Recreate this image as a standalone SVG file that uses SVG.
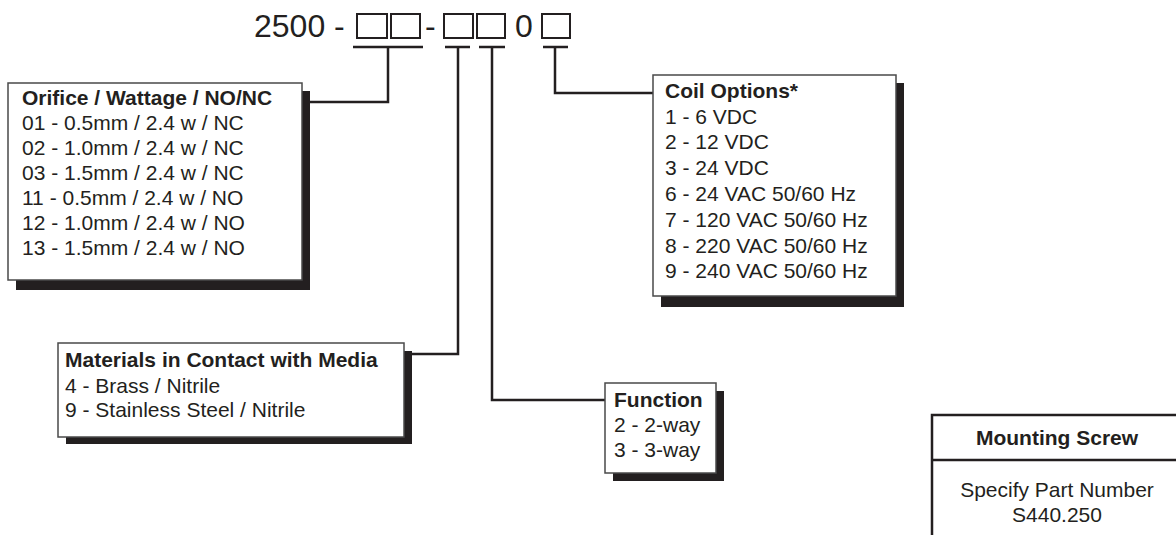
<svg xmlns="http://www.w3.org/2000/svg" width="1176" height="535" viewBox="0 0 1176 535">
<style>
  text { font-family: "Liberation Sans", Arial, sans-serif; fill: #231f20; }
  .t { font-size: 21px; }
  .b { font-size: 21px; font-weight: bold; }
  .title { font-size: 32px; }
  .slot { fill: #ffffff; stroke: #231f20; stroke-width: 2; }
  .box { fill: #ffffff; stroke: #4a4a4a; stroke-width: 1.5; }
  .shadow { fill: #231f20; }
  .conn { fill: none; stroke: #231f20; stroke-width: 2.5; }
</style>
<rect width="1176" height="535" fill="#ffffff"/>

<g id="title">
  <text class="title" x="254" y="37">2500 -</text>
  <rect class="slot" x="357" y="14" width="30" height="24"/>
  <rect class="slot" x="391" y="14" width="29" height="24"/>
  <text class="title" x="425" y="37">-</text>
  <rect class="slot" x="444" y="14" width="29" height="24"/>
  <rect class="slot" x="477" y="14" width="28" height="24"/>
  <text class="title" x="515" y="37">0</text>
  <rect class="slot" x="542" y="14" width="28" height="24"/>
</g>

<g id="connectors">
  <path class="conn" d="M353 47 H423"/>
  <path class="conn" d="M388 47 V102 H310"/>
  <path class="conn" d="M445 47 H470"/>
  <path class="conn" d="M458 47 V354 H412"/>
  <path class="conn" d="M479 47 H505"/>
  <path class="conn" d="M492 47 V400 H605"/>
  <path class="conn" d="M543 47 H568"/>
  <path class="conn" d="M555 47 V93 H653"/>
</g>

<g id="orifice">
  <rect class="shadow" x="16" y="91" width="294" height="199"/>
  <rect class="box" x="8" y="83" width="294" height="197"/>
  <text class="b" x="22" y="105">Orifice / Wattage / NO/NC</text>
  <text class="t" x="22" y="130">01 - 0.5mm / 2.4 w / NC</text>
  <text class="t" x="22" y="155">02 - 1.0mm / 2.4 w / NC</text>
  <text class="t" x="22" y="180">03 - 1.5mm / 2.4 w / NC</text>
  <text class="t" x="22" y="205">11 - 0.5mm / 2.4 w / NO</text>
  <text class="t" x="22" y="230">12 - 1.0mm / 2.4 w / NO</text>
  <text class="t" x="22" y="255">13 - 1.5mm / 2.4 w / NO</text>
</g>

<g id="coil">
  <rect class="shadow" x="661" y="83" width="243" height="224"/>
  <rect class="box" x="653" y="75" width="243" height="221"/>
  <text class="b" x="665" y="98">Coil Options*</text>
  <text class="t" x="665" y="124">1 - 6 VDC</text>
  <text class="t" x="665" y="149">2 - 12 VDC</text>
  <text class="t" x="665" y="175">3 - 24 VDC</text>
  <text class="t" x="665" y="201">6 - 24 VAC 50/60 Hz</text>
  <text class="t" x="665" y="227">7 - 120 VAC 50/60 Hz</text>
  <text class="t" x="665" y="253">8 - 220 VAC 50/60 Hz</text>
  <text class="t" x="665" y="278">9 - 240 VAC 50/60 Hz</text>
</g>

<g id="materials">
  <rect class="shadow" x="66" y="351" width="346" height="93"/>
  <rect class="box" x="58" y="343" width="346" height="94"/>
  <text class="b" x="65" y="367">Materials in Contact with Media</text>
  <text class="t" x="65" y="393">4 - Brass / Nitrile</text>
  <text class="t" x="65" y="417">9 - Stainless Steel / Nitrile</text>
</g>

<g id="function">
  <rect class="shadow" x="613" y="391" width="111" height="90"/>
  <rect class="box" x="605" y="383" width="111" height="90"/>
  <text class="b" x="614" y="407">Function</text>
  <text class="t" x="614" y="432">2 - 2-way</text>
  <text class="t" x="614" y="457">3 - 3-way</text>
</g>

<g id="mounting">
  <rect x="932" y="415" width="252" height="130" fill="#ffffff" stroke="#231f20" stroke-width="2.5"/>
  <line x1="932" y1="460" x2="1184" y2="460" stroke="#231f20" stroke-width="2.5"/>
  <text class="b" x="1057" y="445" text-anchor="middle">Mounting Screw</text>
  <text class="t" x="1057" y="497" text-anchor="middle">Specify Part Number</text>
  <text class="t" x="1057" y="522" text-anchor="middle">S440.250</text>
</g>
</svg>
